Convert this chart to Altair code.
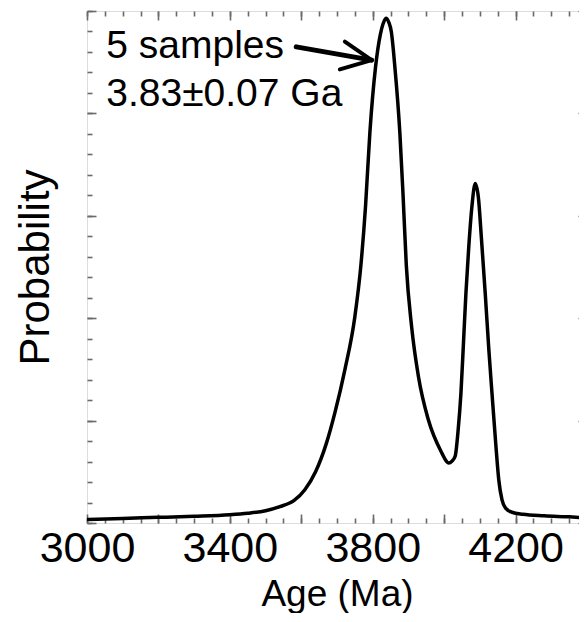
import altair as alt
import pandas as pd

# ---- data ----
ages = [3000, 3100, 3200, 3300, 3400, 3450, 3500, 3540, 3580, 3610, 3640, 3670,
        3694, 3722, 3750, 3767, 3780, 3792, 3808, 3821, 3829, 3837, 3845, 3852,
        3862, 3876, 3885, 3894, 3909, 3928, 3956, 3994, 4006, 4013, 4022, 4031,
        4039, 4047, 4054, 4061, 4069, 4078, 4087, 4096, 4104, 4115, 4125, 4134,
        4145, 4153, 4162, 4172, 4190, 4220, 4280, 4350, 4400]
probs = [0.007, 0.009, 0.011, 0.013, 0.016, 0.019, 0.024, 0.032, 0.044, 0.065, 0.100, 0.155,
         0.215, 0.299, 0.403, 0.504, 0.620, 0.762, 0.891, 0.953, 0.975, 0.986, 0.978, 0.960,
         0.891, 0.762, 0.640, 0.504, 0.383, 0.286, 0.201, 0.136, 0.121, 0.117, 0.121, 0.131,
         0.180, 0.253, 0.350, 0.449, 0.540, 0.620, 0.663, 0.635, 0.560, 0.449, 0.340, 0.253,
         0.150, 0.084, 0.045, 0.029, 0.021, 0.017, 0.014, 0.012, 0.010]

x_label_values = [3000, 3400, 3800, 4200]
x_major_ticks = [3000, 3200, 3400, 3600, 3800, 4000, 4200, 4400]
x_minor_ticks = list(range(3000, 4401, 50))
y_major_ticks = [0.0, 0.2, 0.4, 0.6, 0.8, 1.0]
y_minor_ticks = [round(i * 0.04, 2) for i in range(26)]

note_labels = ["5 samples", "3.83\u00b10.07 Ga"]
note_ages = [3054, 3054]
note_probs = [0.908, 0.814]

# arrow: shaft and two head wings (age, prob) -> (age2, prob2)
arrow_x = [3586, 3722, 3708]
arrow_y = [0.930, 0.940, 0.886]
arrow_x2 = [3797, 3797, 3797]
arrow_y2 = [0.904, 0.904, 0.904]
arrow_w = [5, 4, 4]

W, H = 500, 512
FONT = "Liberation Sans"
GRAY = "#6a6a6a"

df = pd.DataFrame({"age": ages, "p": probs})
df_note = pd.DataFrame({"age": note_ages, "p": note_probs, "label": note_labels})
df_arrow = pd.DataFrame({"x": arrow_x, "y": arrow_y, "x2": arrow_x2, "y2": arrow_y2, "w": arrow_w})

xs = alt.Scale(domain=[3000, 4400], nice=False, zero=False)
ys = alt.Scale(domain=[0, 1], nice=False, zero=False)

base = alt.Chart(df)

line = base.mark_line(color="black", strokeWidth=3.5, interpolate="monotone").encode(
    x=alt.X("age:Q", scale=xs,
            axis=alt.Axis(orient="bottom", values=x_label_values, ticks=False, domain=False,
                          grid=False, format="d", labelFontSize=43, labelColor="black",
                          labelPadding=4, labelOverlap=False, labelFlush=False,
                          title="Age (Ma)", titleFontSize=37, titleColor="black",
                          titleFontWeight="normal", titleBaseline="alphabetic", titleY=82)),
    y=alt.Y("p:Q", scale=ys,
            axis=alt.Axis(orient="left", ticks=False, labels=False, domain=False, grid=False,
                          title="Probability", titleFontSize=42, titleColor="black",
                          titleFontWeight="normal", titlePadding=30)),
)


def tick_layer(xorient, yorient, xvals, yvals, size):
    return base.mark_line(opacity=0).encode(
        x=alt.X("age:Q", scale=xs, title=None,
                axis=alt.Axis(orient=xorient, offset=-H, values=xvals, tickSize=size,
                              tickColor=GRAY, tickWidth=1.6, labels=False, domain=False,
                              grid=False)),
        y=alt.Y("p:Q", scale=ys, title=None,
                axis=alt.Axis(orient=yorient, offset=-W, values=yvals, tickSize=size,
                              tickColor=GRAY, tickWidth=1.6, labels=False, domain=False,
                              grid=False)),
    )


t1 = tick_layer("top", "right", x_major_ticks, y_major_ticks, 9)
t2 = tick_layer("top", "right", x_minor_ticks, y_minor_ticks, 5)
t3 = tick_layer("bottom", "left", x_major_ticks, y_major_ticks, 9)
t4 = tick_layer("bottom", "left", x_minor_ticks, y_minor_ticks, 5)

notes = alt.Chart(df_note).mark_text(align="left", baseline="alphabetic", fontSize=39,
                                     font=FONT, color="black").encode(
    x=alt.X("age:Q", scale=xs, axis=None),
    y=alt.Y("p:Q", scale=ys, axis=None),
    text="label:N",
)

arrow = alt.Chart(df_arrow).mark_rule(color="black", strokeCap="round").encode(
    x=alt.X("x:Q", scale=xs, axis=None),
    y=alt.Y("y:Q", scale=ys, axis=None),
    x2="x2:Q",
    y2="y2:Q",
    strokeWidth=alt.StrokeWidth("w:Q", scale=None, legend=None),
)

chart = alt.layer(line, t1, t2, t3, t4, notes, arrow).resolve_axis(
    x="independent", y="independent"
).properties(
    width=W, height=H,
    autosize=alt.AutoSizeParams(type="none"),
    padding={"left": 79, "top": 3, "right": -8, "bottom": 90},
).configure_view(
    stroke=GRAY, strokeWidth=2
).configure_axis(
    labelFont=FONT, titleFont=FONT
).configure(background="white")

chart.save("out.html", embed_options={"renderer": "svg", "actions": False})
